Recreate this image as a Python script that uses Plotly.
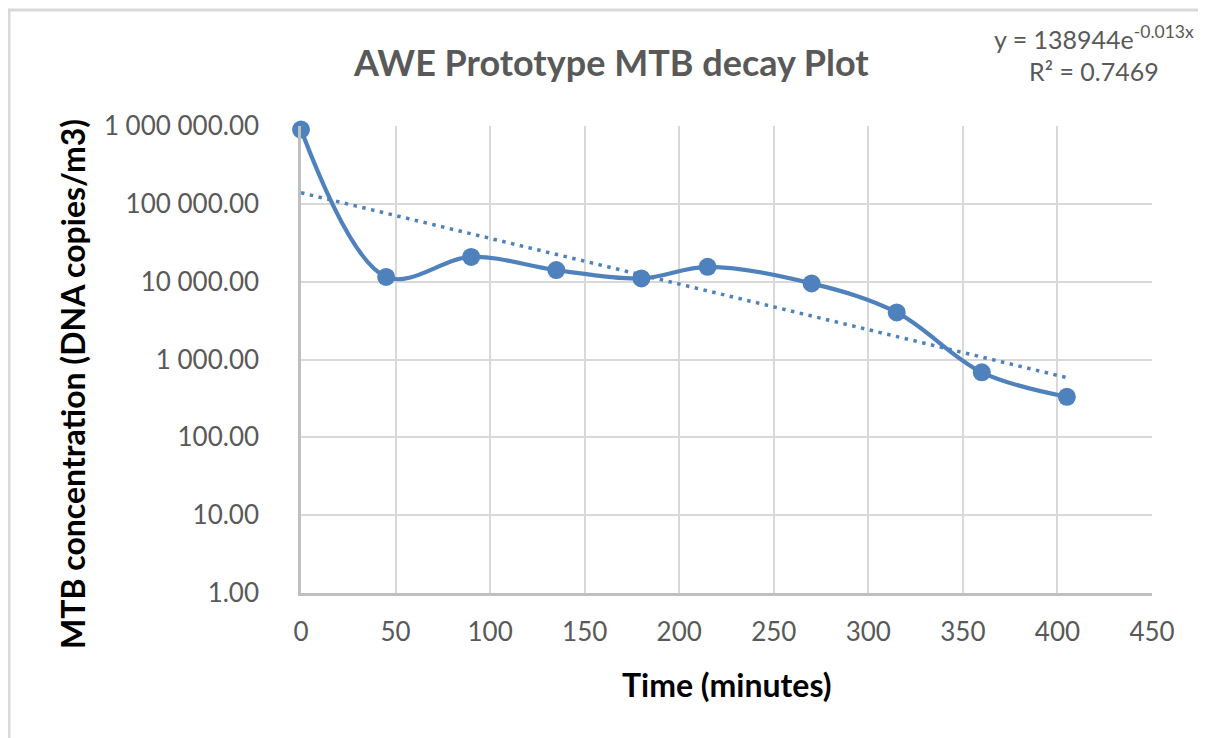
import plotly.graph_objects as go

# ---- data ----
time_min = [0, 45, 90, 135, 180, 215, 270, 315, 360, 405]
mtb_conc = [900000, 11500, 20800, 14100, 11000, 15500, 9500, 4030, 685, 332]

trend_x = [0, 405]
trend_y = [138944, 585]

y_tickvals = [1, 10, 100, 1000, 10000, 100000, 1000000]
y_ticktext = ["1.00", "10.00", "100.00", "1 000.00", "10 000.00", "100 000.00", "1 000 000.00"]
x_tickvals = [0, 50, 100, 150, 200, 250, 300, 350, 400, 450]

title_text = "AWE Prototype MTB decay Plot"
x_title = "Time (minutes)"
y_title = "MTB concentration (DNA copies/m3)"
eq_text = "y = 138944e<sup>-0.013x</sup><br>R² = 0.7469"

BLUE = "#4F81BD"
GRAY_TXT = "#595959"
FONT = "Lato"

OFF = 8  # page body offset
W, H = 1206 - OFF, 738 - OFF
# plot area in screen pixels: x 301..1152, y 126..593
L, R, T, B = 301 - OFF, 1206 - 1152, 126 - OFF, 738 - 593
pw, ph = W - L - R, H - T - B


def px(x):
    return (x - OFF - L) / pw


def py(y):
    return (H - B - (y - OFF)) / ph


fig = go.Figure()
fig.add_trace(go.Scatter(
    x=trend_x, y=trend_y, mode="lines",
    line=dict(color=BLUE, width=3.5, dash="3.5px,5.5px"),
    hoverinfo="skip", showlegend=False, cliponaxis=False,
))
fig.add_trace(go.Scatter(
    x=time_min, y=mtb_conc, mode="lines+markers",
    line=dict(color=BLUE, width=4.2, shape="spline", smoothing=1),
    marker=dict(color=BLUE, size=18),
    showlegend=False, cliponaxis=False,
))

fig.update_layout(
    width=W, height=H,
    margin=dict(l=L, r=R, t=T, b=B),
    paper_bgcolor="white", plot_bgcolor="white",
    font=dict(family=FONT, color=GRAY_TXT),
    showlegend=False,
)
fig.update_xaxes(
    range=[0, 450], tickvals=x_tickvals,
    showgrid=True, gridcolor="#D9D9D9", gridwidth=2,
    showline=True, linecolor="#BFBFBF", linewidth=2.5, mirror=False,
    zeroline=False, ticks="", ticklen=0, ticklabelstandoff=14,
    tickfont=dict(family=FONT, size=26, color=GRAY_TXT),
)
fig.update_yaxes(
    type="log", range=[0, 6], tickvals=y_tickvals, ticktext=y_ticktext,
    showgrid=True, gridcolor="#D9D9D9", gridwidth=2,
    showline=True, linecolor="#BFBFBF", linewidth=2.5,
    zeroline=False, ticks="", ticklen=0, ticklabelstandoff=34,
    tickfont=dict(family=FONT, size=26, color=GRAY_TXT),
)

annotations = [
    dict(text="<b>" + title_text + "</b>", x=px(611), y=py(62), xref="paper", yref="paper",
         showarrow=False, xanchor="center", yanchor="middle",
         font=dict(family=FONT, size=36, color=GRAY_TXT)),
    dict(text="<b>" + x_title + "</b>", x=px(727), y=py(684), xref="paper", yref="paper",
         showarrow=False, xanchor="center", yanchor="middle",
         font=dict(family=FONT, size=32, color="black")),
    dict(text="<b>" + y_title + "</b>", x=px(72), y=py(384), xref="paper", yref="paper",
         showarrow=False, xanchor="center", yanchor="middle", textangle=-90,
         font=dict(family=FONT, size=32, color="black")),
    dict(text=eq_text, x=px(1094), y=py(54), xref="paper", yref="paper",
         showarrow=False, xanchor="center", yanchor="middle", align="center",
         font=dict(family=FONT, size=25, color=GRAY_TXT)),
]
fig.update_layout(annotations=annotations)

fig.add_shape(type="rect", xref="paper", yref="paper",
              x0=px(9), x1=px(1240), y0=py(10), y1=py(760),
              line=dict(color="#D9D9D9", width=3), fillcolor="rgba(0,0,0,0)", layer="below")

fig.write_html("out.html")
